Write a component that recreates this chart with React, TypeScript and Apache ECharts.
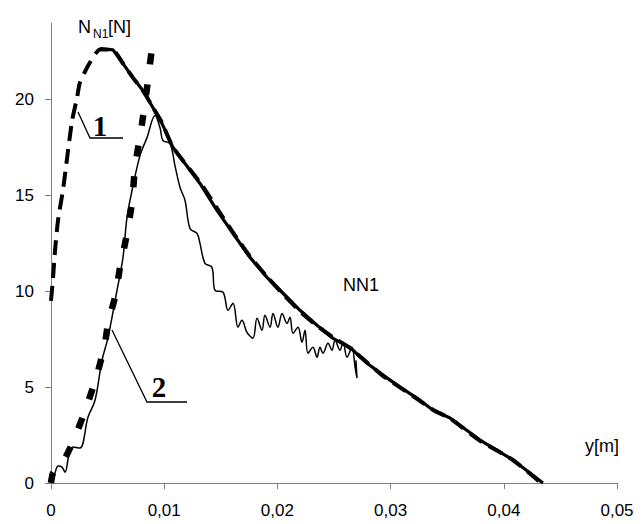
import React, { useEffect, useRef } from 'react';
import * as echarts from 'echarts';

// axis ticks
const xTickValues = [0, 0.01, 0.02, 0.03, 0.04, 0.05];
const yTickValues = [0, 5, 10, 15, 20];

// curve "1" (thick dashed)
const curve1Dashed: number[][] = [
  [0, 9.5], [0.00018, 10.7], [0.00035, 12.1], [0.00062, 13.7], [0.00106, 15.3],
  [0.00141, 16.9], [0.00186, 18.9], [0.0023, 20.1], [0.00256, 20.9], [0.00345, 21.95],
  [0.00433, 22.62], [0.0055, 22.58], [0.0064, 21.85], [0.0073, 21.1], [0.0082, 20.4],
  [0.009, 19.6], [0.0098, 18.8], [0.0108, 17.5], [0.0132, 15.65], [0.0147, 14.3],
  [0.0161, 13.05], [0.0176, 11.8], [0.0191, 10.75], [0.0205, 9.85], [0.022, 8.95],
  [0.0235, 8.2], [0.0249, 7.6], [0.0264, 7.05], [0.0279, 6.3], [0.0293, 5.6],
  [0.0308, 5.0], [0.0323, 4.4], [0.0338, 3.8], [0.0353, 3.35], [0.0379, 2.2],
  [0.0408, 1.2], [0.0433, 0],
];

// NN1 (thick solid)
const nn1Solid: number[][] = [
  [0.00433, 22.66], [0.00548, 22.6], [0.00636, 21.88], [0.00724, 21.15], [0.00813, 20.47],
  [0.00901, 19.58], [0.00981, 18.75], [0.01078, 17.5], [0.01316, 15.63], [0.01466, 14.22],
  [0.01608, 13.02], [0.01758, 11.77], [0.01908, 10.73], [0.0205, 9.9], [0.022, 9.01],
  [0.0235, 8.23], [0.02491, 7.55], [0.02641, 7.08], [0.02792, 6.25], [0.02933, 5.63],
  [0.03083, 5.0], [0.03233, 4.43], [0.03375, 3.8], [0.03525, 3.39], [0.0379, 2.24],
  [0.04081, 1.2], [0.04346, 0],
];

// curve "2" (thick dotted)
const curve2Dotted: number[][] = [
  [0, 0], [0.00018, 0.52], [0.00124, 1.3], [0.00212, 2.4], [0.00309, 3.91],
  [0.00406, 5.63], [0.00477, 7.29], [0.00504, 8.33], [0.00565, 9.69], [0.0061, 11.25],
  [0.00663, 12.76], [0.00716, 14.64], [0.00742, 16.46], [0.00804, 18.75], [0.00848, 20.6],
  [0.00901, 23.07], [0.0092, 23.4],
];

// measured (thin solid)
const measuredThin: number[][] = [
  [0, 0], [0.00035, 0.52], [0.00062, 0.89], [0.00097, 0.83], [0.00124, 0.57],
  [0.00159, 1.46], [0.00194, 1.88], [0.00256, 1.82], [0.00327, 3.44], [0.00389, 4.32],
  [0.00451, 6.41], [0.00504, 7.6], [0.00583, 10.05], [0.00636, 11.77], [0.00671, 13.85],
  [0.00716, 15.26], [0.00786, 17.08], [0.00848, 18.02], [0.00919, 19.17], [0.00963, 18.54],
  [0.00989, 17.86], [0.01051, 17.71], [0.01095, 16.56], [0.0114, 15.42], [0.01184, 14.74],
  [0.01228, 13.28], [0.0129, 13.02], [0.01316, 12.5], [0.0136, 11.46], [0.01422, 11.25],
  [0.01449, 10.05], [0.0152, 9.95], [0.01564, 9.01], [0.01608, 9.38], [0.01652, 8.13],
  [0.01687, 8.49], [0.01731, 7.86], [0.01784, 7.55], [0.0182, 8.59], [0.01864, 7.97],
  [0.0189, 8.75], [0.01935, 8.13], [0.01961, 8.85], [0.02005, 8.13], [0.02041, 8.85],
  [0.02085, 8.33], [0.02111, 8.65], [0.02138, 7.81], [0.02182, 8.13], [0.02217, 7.34],
  [0.02244, 7.97], [0.0227, 6.77], [0.02314, 7.08], [0.0235, 6.56], [0.02376, 7.08],
  [0.02403, 6.77], [0.02447, 7.29], [0.02482, 6.93], [0.02509, 7.45], [0.02553, 6.93],
  [0.0258, 7.34], [0.02615, 6.56], [0.02659, 7.08], [0.02686, 6.04], [0.02703, 5.47],
  [0.02694, 6.4],
];

const SANS = '"Liberation Sans", Arial, sans-serif';
const SERIF = '"Liberation Serif", "Times New Roman", serif';

export default function App() {
  const ref = useRef<HTMLDivElement>(null);
  useEffect(() => {
    const chart = echarts.init(ref.current!, null, { renderer: 'svg' });
    const axisGray = '#808080';
    chart.setOption({
      animation: false,
      backgroundColor: '#fff',
      grid: { left: 51, right: 25, top: 23, bottom: 41, containLabel: false },
      xAxis: {
        type: 'value',
        min: 0,
        max: 0.05,
        interval: 0.01,
        axisLine: { show: true, onZero: false, lineStyle: { color: axisGray, width: 1 } },
        axisTick: { show: true, length: 6, lineStyle: { color: axisGray } },
        splitLine: { show: false },
        axisLabel: {
          color: '#000',
          fontSize: 17,
          fontFamily: SANS,
          margin: 19,
          formatter: (v: number) => (v === 0 ? '0' : v.toFixed(2).replace('.', ',')),
        },
      },
      yAxis: {
        type: 'value',
        min: 0,
        max: 24,
        axisLine: { show: true, onZero: false, lineStyle: { color: axisGray, width: 1 } },
        axisTick: { show: true, length: 6, lineStyle: { color: axisGray }, customValues: yTickValues },
        splitLine: { show: false },
        axisLabel: {
          color: '#000',
          fontSize: 17,
          fontFamily: SANS,
          margin: 17,
          customValues: yTickValues,
          formatter: (v: number) => String(v),
        },
      },
      series: [
        {
          type: 'line',
          data: curve2Dotted,
          symbol: 'none',
          smooth: 0.2,
          lineStyle: { color: '#000', width: 6.5, type: [11, 20] },
          z: 2,
        },
        {
          type: 'line',
          data: curve1Dashed,
          symbol: 'none',
          smooth: 0.2,
          lineStyle: { color: '#000', width: 4, type: [15, 8] },
          z: 3,
        },
        {
          type: 'line',
          data: nn1Solid,
          symbol: 'none',
          lineStyle: { color: '#000', width: 3.2 },
          z: 4,
        },
        {
          type: 'line',
          data: measuredThin,
          symbol: 'none',
          smooth: 0.35,
          lineStyle: { color: '#000', width: 1.5 },
          z: 5,
        },
      ],
      graphic: [
        {
          type: 'polyline',
          shape: { points: [[78, 112], [90, 138], [123, 138]] },
          style: { stroke: '#000', lineWidth: 1.3, fill: 'none' },
        },
        {
          type: 'text',
          x: 100,
          y: 126,
          style: { text: '1', fill: '#000', font: `bold 29px ${SERIF}`, align: 'center', verticalAlign: 'middle' },
        },
        {
          type: 'polyline',
          shape: { points: [[112, 330], [147, 402], [187, 402]] },
          style: { stroke: '#000', lineWidth: 1.3, fill: 'none' },
        },
        {
          type: 'text',
          x: 159,
          y: 387,
          style: { text: '2', fill: '#000', font: `bold 29px ${SERIF}`, align: 'center', verticalAlign: 'middle' },
        },
        {
          type: 'text',
          x: 343,
          y: 285,
          style: { text: 'NN1', fill: '#000', font: `18px ${SANS}`, align: 'left', verticalAlign: 'middle' },
        },
        {
          type: 'text',
          x: 78,
          y: 27,
          style: { text: 'N', fill: '#000', font: `18px ${SANS}`, align: 'left', verticalAlign: 'middle' },
        },
        {
          type: 'text',
          x: 93,
          y: 34,
          style: { text: 'N1', fill: '#000', font: `12px ${SANS}`, align: 'left', verticalAlign: 'middle' },
        },
        {
          type: 'text',
          x: 108,
          y: 27,
          style: { text: '[N]', fill: '#000', font: `18px ${SANS}`, align: 'left', verticalAlign: 'middle' },
        },
        {
          type: 'text',
          x: 585,
          y: 446,
          style: { text: 'y[m]', fill: '#000', font: `18px ${SANS}`, align: 'left', verticalAlign: 'middle' },
        },
      ],
    });
    return () => chart.dispose();
  }, []);
  return (
    <div
      ref={ref}
      style={{ position: 'absolute', left: 0, top: 0, width: 642, height: 524, background: '#fff' }}
    />
  );
}
